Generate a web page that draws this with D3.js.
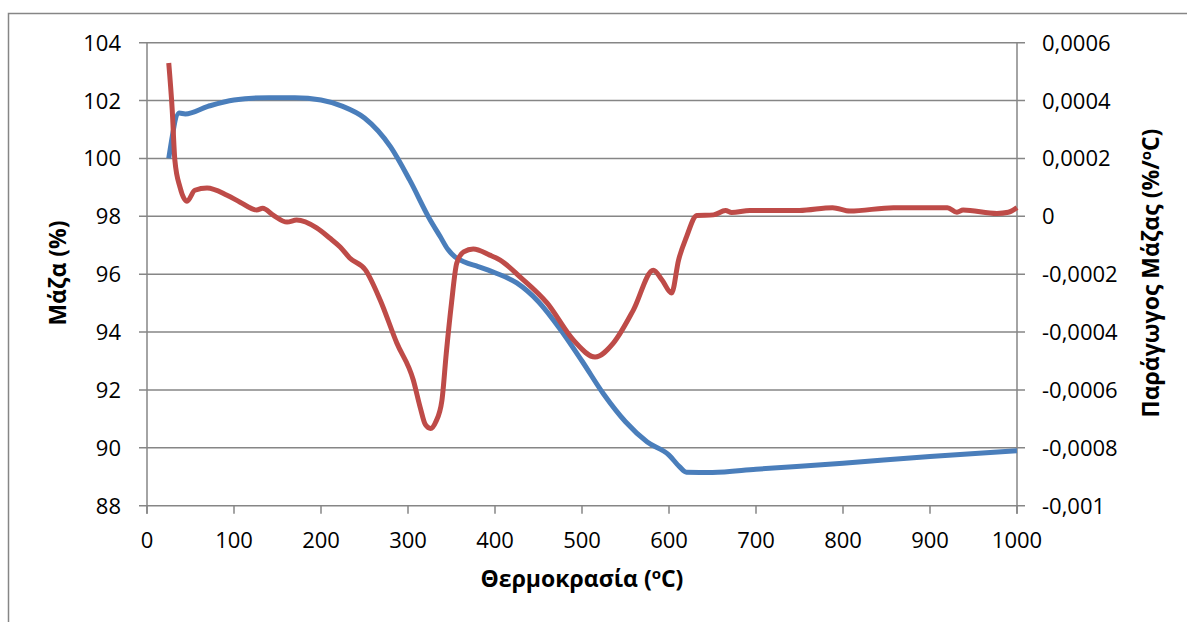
<!DOCTYPE html>
<html>
<head>
<meta charset="utf-8">
<script src="https://cdn.jsdelivr.net/npm/d3@7"></script>
<style>
  body { margin: 0; background: #fff; }
  svg { display: block; }
  text { font-family: "Open Sans", "DejaVu Sans", sans-serif; fill: #000; }
</style>
</head>
<body>
<svg width="1187" height="622"></svg>
<script>
// mass curve (left axis, %)
var massT = [25, 37, 44, 70, 100, 140, 170, 200, 225, 250, 280, 302, 325, 337, 346, 354, 365, 380, 400, 425, 450, 475, 500, 525, 550, 575, 600, 612, 620, 650, 700, 800, 900, 1000];
var massV = [100, 101.57, 101.54, 101.8, 102.02, 102.1, 102.1, 102.02, 101.8, 101.4, 100.4, 99.25, 97.9, 97.3, 96.85, 96.6, 96.42, 96.27, 96.05, 95.7, 95.05, 94.1, 93.0, 91.85, 90.9, 90.2, 89.75, 89.35, 89.16, 89.15, 89.26, 89.47, 89.7, 89.9];

// derivative curve (right axis, %/oC), in units of 1e-4
var derT = [25, 29, 32, 38, 46, 55, 69, 92, 107, 126, 133, 145, 161, 172, 195, 210, 222, 233, 251, 268, 287, 306, 314, 320, 326, 332, 339, 344, 350, 356, 364, 375, 394, 406, 429, 460, 490, 515, 536, 559, 582, 592, 603, 611, 620, 632, 651, 665, 672, 693, 750, 788, 808, 858, 920, 931, 938, 977, 990, 1000];
var derV = [5.3, 3.67, 1.95, 1.0, 0.52, 0.9, 0.98, 0.73, 0.49, 0.22, 0.28, 0.04, -0.2, -0.13, -0.4, -0.75, -1.06, -1.44, -1.85, -2.89, -4.37, -5.65, -6.6, -7.2, -7.33, -7.1, -6.36, -4.73, -3.0, -1.62, -1.23, -1.13, -1.34, -1.51, -2.1, -3.0, -4.27, -4.86, -4.38, -3.24, -1.86, -2.2, -2.65, -1.51, -0.72, 0.03, 0.05, 0.2, 0.13, 0.2, 0.2, 0.3, 0.18, 0.3, 0.3, 0.14, 0.22, 0.1, 0.14, 0.3];

var xTicks = [0, 100, 200, 300, 400, 500, 600, 700, 800, 900, 1000];
var leftTicks = [88, 90, 92, 94, 96, 98, 100, 102, 104];
var rightTicks = [-0.001, -0.0008, -0.0006, -0.0004, -0.0002, 0, 0.0002, 0.0004, 0.0006];
var rightLabels = ['-0,001', '-0,0008', '-0,0006', '-0,0004', '-0,0002', '0', '0,0002', '0,0004', '0,0006'];

var svg = d3.select('svg');
var gridColor = '#868686';

var plotLeft = 147, plotRight = 1017, plotTop = 42.7, plotBottom = 505.7;

var x = d3.scaleLinear().domain([0, 1000]).range([plotLeft, plotRight]);
var yL = d3.scaleLinear().domain([88, 104]).range([plotBottom, plotTop]);
var yR = d3.scaleLinear().domain([-0.001, 0.0006]).range([plotBottom, plotTop]);

// outer frame
svg.append('rect')
  .attr('x', 8.5).attr('y', 13.5)
  .attr('width', 1300).attr('height', 700)
  .attr('fill', 'none')
  .attr('stroke', gridColor)
  .attr('stroke-width', 1.5);

// gridlines
svg.selectAll('.grid')
  .data(leftTicks)
  .enter()
  .append('line')
  .attr('class', 'grid')
  .attr('x1', plotLeft - 8).attr('x2', plotRight + 8)
  .attr('y1', function(d) { return yL(d); })
  .attr('y2', function(d) { return yL(d); })
  .attr('stroke', gridColor)
  .attr('stroke-width', 1.5);

// vertical axis lines
[plotLeft, plotRight].forEach(function(px) {
  svg.append('line')
    .attr('x1', px).attr('x2', px)
    .attr('y1', plotTop).attr('y2', plotBottom + 8)
    .attr('stroke', gridColor)
    .attr('stroke-width', 1.5);
});

// x tick marks and labels
svg.selectAll('.xtick')
  .data(xTicks)
  .enter()
  .append('line')
  .attr('class', 'xtick')
  .attr('x1', function(d) { return x(d); })
  .attr('x2', function(d) { return x(d); })
  .attr('y1', plotBottom).attr('y2', plotBottom + 8)
  .attr('stroke', gridColor)
  .attr('stroke-width', 1.5);

svg.selectAll('.xlabel')
  .data(xTicks)
  .enter()
  .append('text')
  .attr('class', 'xlabel')
  .attr('x', function(d) { return x(d); })
  .attr('y', 548)
  .attr('text-anchor', 'middle')
  .style('font-size', '22px')
  .text(function(d) { return d; });

svg.selectAll('.llabel')
  .data(leftTicks)
  .enter()
  .append('text')
  .attr('class', 'llabel')
  .attr('x', 121)
  .attr('y', function(d) { return yL(d) + 8; })
  .attr('text-anchor', 'end')
  .style('font-size', '22px')
  .text(function(d) { return d; });

svg.selectAll('.rlabel')
  .data(rightTicks)
  .enter()
  .append('text')
  .attr('class', 'rlabel')
  .attr('x', 1042)
  .attr('y', function(d) { return yR(d) + 8; })
  .attr('text-anchor', 'start')
  .style('font-size', '22px')
  .text(function(d, i) { return rightLabels[i]; });

// axis titles
var xt = svg.append('text')
  .attr('x', 582).attr('y', 587)
  .attr('text-anchor', 'middle')
  .style('font-size', '23px')
  .style('font-weight', 'bold');
xt.append('tspan').text('Θερμοκρασία (');
xt.append('tspan').attr('dy', -8).style('font-size', '15px').text('o');
xt.append('tspan').attr('dy', 8).text('C)');

svg.append('text')
  .attr('transform', 'translate(66,273) rotate(-90)')
  .attr('text-anchor', 'middle')
  .style('font-size', '23px')
  .style('font-weight', 'bold')
  .text('Μάζα (%)');

var rt = svg.append('text')
  .attr('transform', 'translate(1159,273) rotate(-90)')
  .attr('text-anchor', 'middle')
  .style('font-size', '23px')
  .style('font-weight', 'bold');
rt.append('tspan').text('Παράγωγος Μάζας (%/');
rt.append('tspan').attr('dy', -8).style('font-size', '15px').text('o');
rt.append('tspan').attr('dy', 8).text('C)');

// lines
var massLine = d3.line()
  .x(function(d, i) { return x(massT[i]); })
  .y(function(d) { return yL(d); })
  .curve(d3.curveMonotoneX);

var derLine = d3.line()
  .x(function(d, i) { return x(derT[i]); })
  .y(function(d) { return yR(d * 1e-4); })
  .curve(d3.curveMonotoneX);

svg.append('path')
  .datum(massV)
  .attr('d', massLine)
  .attr('fill', 'none')
  .attr('stroke', '#4a7ebb')
  .attr('stroke-width', 5)
  .attr('stroke-linejoin', 'round');

svg.append('path')
  .datum(derV)
  .attr('d', derLine)
  .attr('fill', 'none')
  .attr('stroke', '#be4b48')
  .attr('stroke-width', 5)
  .attr('stroke-linejoin', 'round');
</script>
</body>
</html>
